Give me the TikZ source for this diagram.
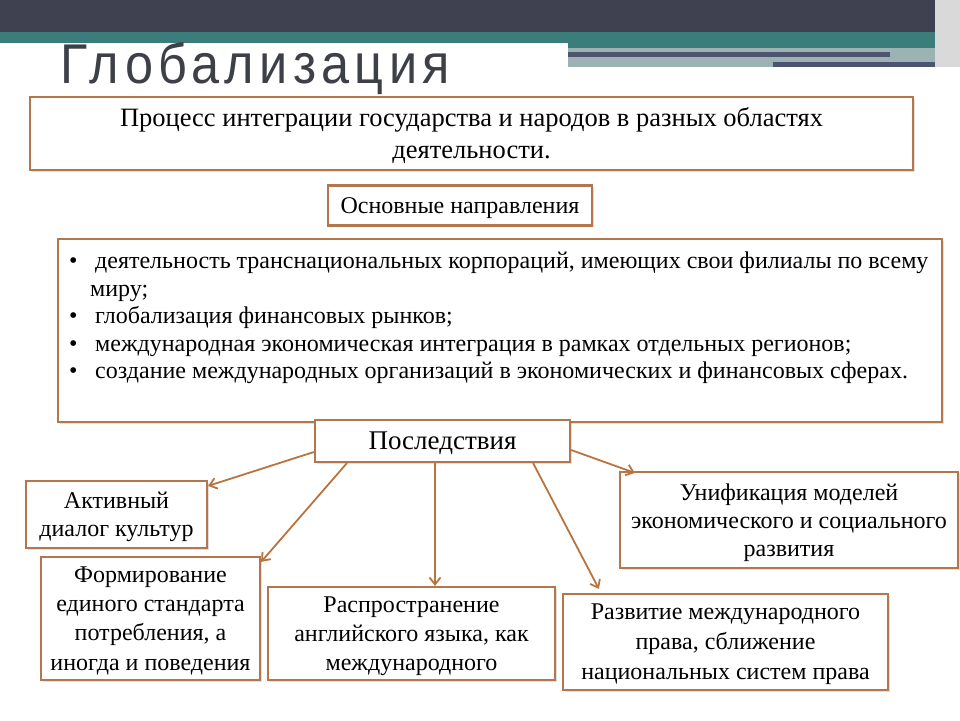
\documentclass[tikz,border=0pt]{standalone}
\usepackage{fontspec}
\setmainfont{Liberation Serif}
\newfontfamily\titlefont[FakeStretch=0.9, LetterSpace=9.5]{Liberation Sans}
\usepackage{tikz}
\usetikzlibrary{arrows.meta, positioning, shadows}
\definecolor{boxline}{HTML}{B4764C}
\definecolor{arrline}{HTML}{B8743F}
\definecolor{darkband}{HTML}{3F4150}
\definecolor{tealband}{HTML}{3B7D7B}
\definecolor{paleband}{HTML}{9DB3B3}
\definecolor{stripe}{HTML}{4D5470}
\definecolor{titlegray}{HTML}{3E4048}
\newcommand{\bulitem}{\makebox[26pt][l]{\textbullet}}
\tikzset{
  box/.style ={rectangle, draw=boxline, line width=2.2pt, align=center, inner sep=3pt, fill=white,
               text depth=-6pt,
               drop shadow={shadow xshift=1.5pt, shadow yshift=-1.5pt, opacity=0.25}},
  txt/.style ={font=\fontsize{24}{29}\selectfont},
  tight/.style ={font=\fontsize{24}{28.3}\selectfont},
  big/.style ={font=\fontsize{26.5}{32}\selectfont},
  fl/.style  ={draw=arrline, line width=1.8pt, -{Straight Barb[length=7pt, width=11pt]}},
}

\begin{document}
\begin{tikzpicture}[x=1pt, y=-1pt]
  \useasboundingbox (0,0) rectangle (960,720);
  % header bands
  \fill[darkband] (0,0) rectangle (960,32);
  \fill[tealband] (0,32) rectangle (940,43);
  \fill[tealband] (568,43) rectangle (940,48);
  \fill[paleband] (568,48) rectangle (945,67);
  \fill[stripe] (568,52) rectangle (890,57);
  \fill[stripe] (773,62) rectangle (943,67);
  \fill[black!15] (935,0) rectangle (960,67);
  \node[anchor=base west, inner sep=0, text=titlegray, font=\titlefont\fontsize{56}{60}\selectfont] (title) at (60,83) {Глобализация};

  \node[box, big, minimum width=883pt, minimum height=73pt] (defn) at (471.5,133.5)
    {Процесс интеграции государства и народов в разных областях\\деятельности.};
  \node[box, txt, minimum width=264pt, minimum height=40pt, text depth=-2pt] (dirhead) at (460,205.5) {Основные направления};
  \node[box, minimum width=884pt, minimum height=183pt, anchor=north west, text depth=0pt] (dirbox) at (57,238) {};
  \node[anchor=north west, align=left, inner sep=0, font=\fontsize{24}{27.5}\selectfont] (dirs) at (69,252)
    {\bulitem деятельность транснациональных корпораций, имеющих свои филиалы по всему\\
     \hspace*{21pt}миру;\\
     \bulitem глобализация финансовых рынков;\\
     \bulitem международная экономическая интеграция в рамках отдельных регионов;\\
     \bulitem создание международных организаций в экономических и финансовых сферах.};

  \node[box, minimum width=255pt, minimum height=42pt, font=\fontsize{27}{30}\selectfont] (cons) at (442.5,441) {Последствия};

  \node[box, tight, minimum width=181pt, minimum height=67pt, text depth=-3pt] (act) at (116.5,514.5) {Активный\\диалог культур};
  \node[box, minimum width=219pt, minimum height=123pt, text depth=0pt, font=\fontsize{24}{29.1}\selectfont] (form) at (150.5,618.5)
    {Формирование\\единого стандарта\\потребления, а\\иногда и поведения};
  \node[box, txt, minimum width=287pt, minimum height=93pt] (eng) at (411.5,633.5)
    {Распространение\\английского языка, как\\международного};
  \node[box, tight, minimum width=338pt, minimum height=96pt] (unif) at (789,520)
    {Унификация моделей\\экономического и социального\\развития};
  \node[box, minimum width=325pt, minimum height=96pt, font=\fontsize{24}{30}\selectfont] (law) at (725.5,642)
    {Развитие международного\\права, сближение\\национальных систем права};

  \coordinate (c3) at ([xshift=-7.5pt]cons.south);
  \draw[fl] ([yshift=-11pt]cons.west) -- ([yshift=-6pt]act.north east);
  \draw[fl] ([xshift=33pt]cons.south west) -- ([yshift=-6pt]form.north east);
  \draw[fl] (c3) -- (c3 |- eng.north);
  \draw[fl] ([xshift=-38pt]cons.south east) -- ([shift={(37pt,4pt)}]law.north west);
  \draw[fl] ([yshift=-9pt]cons.east) -- ([shift={(16pt,-2pt)}]unif.north west);
\end{tikzpicture}
\end{document}
